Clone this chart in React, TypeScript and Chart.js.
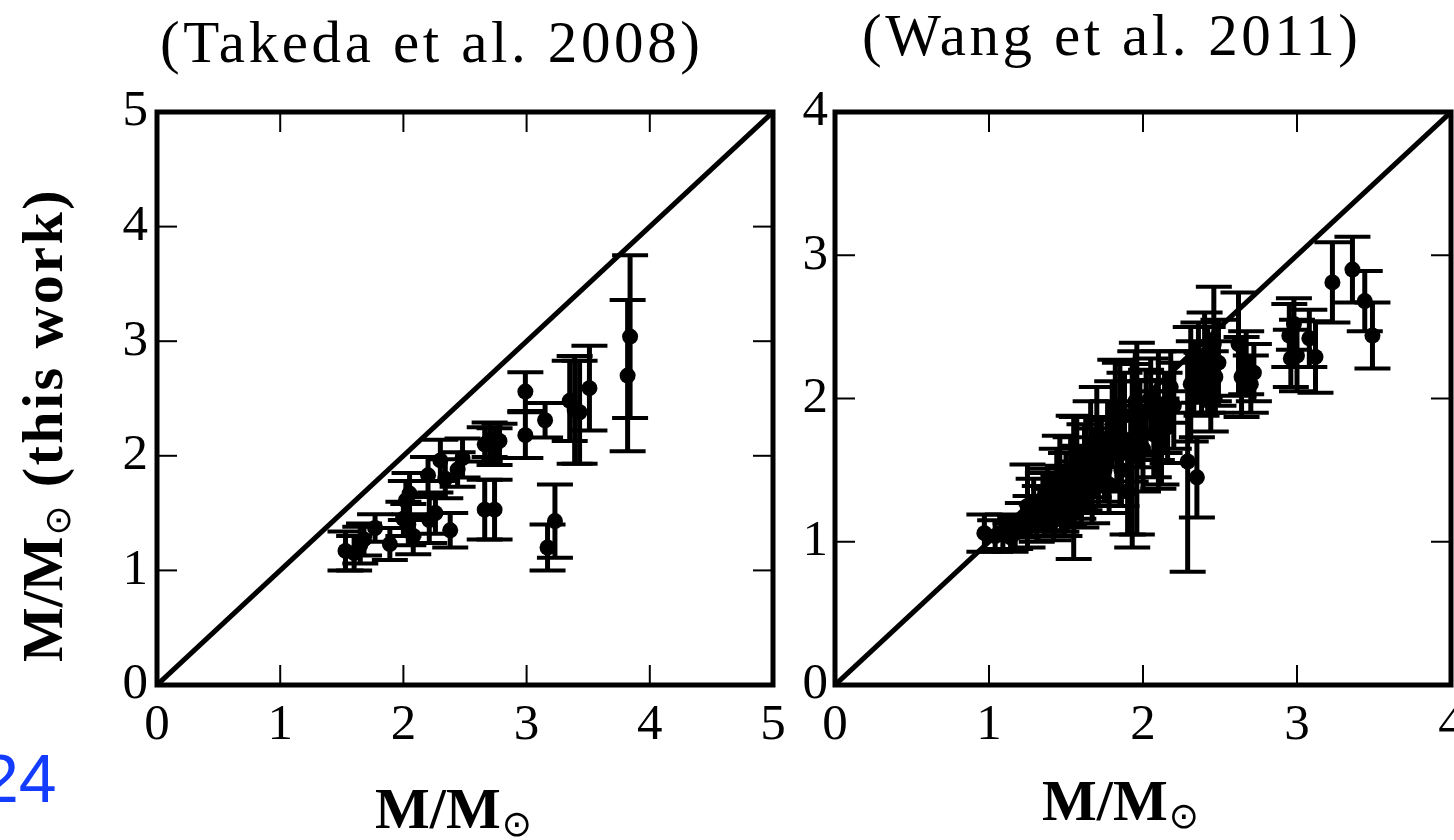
import React, { useEffect, useRef } from "react";
import { Chart, registerables } from "chart.js";

Chart.register(...registerables);

// ---------- data: Takeda et al. 2008 comparison ----------
const takedaMass = [1.53, 1.60, 1.65, 1.68, 1.77, 1.89, 2.00, 2.02, 2.05, 2.04, 2.08, 2.20, 2.21, 2.26, 2.30, 2.34, 2.38, 2.44, 2.48, 2.66, 2.70, 2.74, 2.78, 2.66, 2.74, 2.99, 2.99, 3.15, 3.17, 3.23, 3.35, 3.39, 3.43, 3.51, 3.84, 3.82];
const takedaThisWork = [1.17, 1.15, 1.22, 1.27, 1.37, 1.23, 1.45, 1.61, 1.67, 1.40, 1.30, 1.83, 1.44, 1.50, 1.96, 1.80, 1.35, 1.88, 1.98, 2.10, 2.14, 2.08, 2.13, 1.53, 1.53, 2.56, 2.18, 2.31, 1.20, 1.43, 2.48, 2.40, 2.38, 2.59, 3.04, 2.70];
const takedaErr = [0.17, 0.15, 0.16, 0.14, 0.12, 0.14, 0.15, 0.17, 0.18, 0.18, 0.16, 0.16, 0.20, 0.18, 0.18, 0.17, 0.15, 0.15, 0.17, 0.15, 0.15, 0.16, 0.15, 0.26, 0.26, 0.17, 0.20, 0.15, 0.20, 0.32, 0.35, 0.47, 0.45, 0.37, 0.71, 0.66];

// ---------- data: Wang et al. 2011 comparison ----------
const wangMass = [
  0.97, 1.04, 1.09, 1.14, 1.17,
  1.22, 1.25, 1.27, 1.29, 1.31, 1.33, 1.35, 1.36, 1.38, 1.39, 1.41, 1.42, 1.44, 1.46, 1.47, 1.48,
  1.49, 1.50, 1.52, 1.53, 1.55, 1.57, 1.58, 1.59, 1.60, 1.62, 1.63, 1.64, 1.66, 1.67, 1.68, 1.70, 1.71, 1.73, 1.75, 1.77, 1.78, 1.80,
  1.82, 1.83, 1.85, 1.86, 1.88, 1.90, 1.92, 1.93, 1.96, 1.95, 1.98, 2.00, 2.02, 2.05, 2.07, 2.09, 2.10, 2.12, 2.14, 2.16, 2.18, 2.20,
  2.29, 2.35, 2.31, 2.33, 2.36, 2.38, 2.40, 2.42, 2.44, 2.46, 2.47, 2.49,
  2.62, 2.64, 2.67, 2.70, 2.72,
  2.95, 2.96, 2.98, 3.00, 3.08, 3.12,
  3.23, 3.36, 3.44, 3.49,
];
const wangThisWork = [
  1.06, 1.04, 1.07, 1.03, 1.06,
  1.15, 1.25, 1.18, 1.28, 1.13, 1.24, 1.30, 1.18, 1.35, 1.22, 1.28, 1.15, 1.40, 1.45, 1.25, 1.33,
  1.20, 1.40, 1.30, 1.48, 1.38, 1.55, 1.36, 1.45, 1.28, 1.52, 1.62, 1.40, 1.68, 1.35, 1.55, 1.75, 1.45, 1.60, 1.50, 1.68, 1.40, 1.82,
  1.95, 1.62, 1.75, 1.50, 1.88, 1.35, 1.70, 1.60, 1.72, 1.98, 1.82, 1.65, 1.90, 2.00, 1.75, 1.85, 1.85, 1.70, 1.90, 1.80, 2.08, 1.95,
  1.56, 1.45, 2.10, 2.15, 2.25, 2.10, 2.30, 2.20, 2.05, 2.38, 2.15, 2.25,
  2.38, 2.15, 2.25, 2.10, 2.18,
  2.44, 2.28, 2.52, 2.30, 2.42, 2.29,
  2.81, 2.90, 2.68, 2.44,
];
const wangErr = [
  0.13, 0.11, 0.12, 0.10, 0.11,
  0.12, 0.29, 0.14, 0.16, 0.13, 0.15, 0.18, 0.14, 0.16, 0.15, 0.20, 0.14, 0.25, 0.29, 0.18, 0.20,
  0.16, 0.22, 0.18, 0.25, 0.50, 0.32, 0.20, 0.22, 0.18, 0.30, 0.25, 0.20, 0.30, 0.22, 0.24, 0.33, 0.20, 0.25, 0.22, 0.30, 0.20, 0.30,
  0.32, 0.25, 0.50, 0.25, 0.30, 0.30, 0.28, 0.64, 0.67, 0.35, 0.30, 0.30, 0.30, 0.28, 0.30, 0.28, 0.48, 0.30, 0.28, 0.25, 0.25, 0.30,
  0.77, 0.28, 0.40, 0.25, 0.28, 0.22, 0.30, 0.30, 0.28, 0.40, 0.25, 0.30,
  0.36, 0.28, 0.22, 0.20, 0.20,
  0.22, 0.20, 0.18, 0.25, 0.20, 0.25,
  0.28, 0.23, 0.21, 0.23,
];

// ---------- ticks & text ----------
const takedaTicks = [0, 1, 2, 3, 4, 5];
const wangTicks = [0, 1, 2, 3, 4];
const takedaTitle = "(Takeda et al. 2008)";
const wangTitle = "(Wang et al. 2011)";
const axisMain = "M/M";
const axisSun = "\u2299";
const yTail = " (this work)";
const pageNo = "24";

const SERIF = "'Liberation Serif', 'Times New Roman', serif";
const SUNFONT = "'DejaVu Sans', sans-serif";

function line(ctx: CanvasRenderingContext2D, x1: number, y1: number, x2: number, y2: number) {
  ctx.beginPath();
  ctx.moveTo(x1, y1);
  ctx.lineTo(x2, y2);
  ctx.stroke();
}

const errorBarPlugin = {
  id: "errorBars",
  beforeDatasetsDraw(chart: any) {
    const ds = chart.data.datasets[1];
    const errs: number[] = ds.errors || [];
    const xs = chart.scales.x;
    const ys = chart.scales.y;
    const ctx: CanvasRenderingContext2D = chart.ctx;
    ctx.save();
    ctx.strokeStyle = "#000";
    ds.data.forEach((p: any, i: number) => {
      const e = errs[i];
      if (!e) return;
      const px = xs.getPixelForValue(p.x);
      const t = ys.getPixelForValue(p.y + e);
      const b = ys.getPixelForValue(p.y - e);
      ctx.lineWidth = 5;
      line(ctx, px, t, px, b);
      ctx.lineWidth = 4;
      line(ctx, px - 18, t, px + 18, t);
      line(ctx, px - 18, b, px + 18, b);
    });
    ctx.restore();
  },
};

const framePlugin = {
  id: "frameTicks",
  afterDatasetsDraw(chart: any) {
    const ctx: CanvasRenderingContext2D = chart.ctx;
    const { left, right, top, bottom } = chart.chartArea;
    const xs = chart.scales.x;
    const ys = chart.scales.y;
    const L = 20;
    ctx.save();
    ctx.strokeStyle = "#000";
    ctx.lineWidth = 2;
    xs.ticks.forEach((t: any) => {
      const px = xs.getPixelForValue(t.value);
      line(ctx, px, bottom, px, bottom - L);
      line(ctx, px, top, px, top + L);
    });
    ys.ticks.forEach((t: any) => {
      const py = ys.getPixelForValue(t.value);
      line(ctx, left, py, left + L, py);
      line(ctx, right, py, right - L, py);
    });
    ctx.lineWidth = 5;
    ctx.strokeRect(left, top, right - left, bottom - top);
    ctx.restore();
  },
};

type TextCfg = {
  title: string;
  titleX: number;
  titleY: number;
  titleWidth: number;
  xLabelX: number;
  xLabelY: number;
  yLabel: boolean;
  yLabelX: number;
  yLabelY: number;
  yLabelLength: number;
};

function setSpacing(ctx: any, px: number) {
  if ("letterSpacing" in ctx) ctx.letterSpacing = `${px}px`;
}

function drawSpacedCentered(ctx: any, text: string, font: string, cx: number, y: number, target: number) {
  ctx.font = font;
  setSpacing(ctx, 0);
  const w0 = ctx.measureText(text).width;
  let sp = 0;
  if (target > w0 && text.length > 1) sp = (target - w0) / (text.length - 1);
  setSpacing(ctx, sp);
  ctx.textAlign = "left";
  ctx.fillText(text, cx - target / 2, y);
  setSpacing(ctx, 0);
}

function drawSunLabel(ctx: any, cx: number, y: number, tail: string, totalTarget: number) {
  const mainFont = `bold 58px ${SERIF}`;
  const sunFont = `36px ${SUNFONT}`;
  ctx.textAlign = "left";
  setSpacing(ctx, 0);
  ctx.font = mainFont;
  const wMain = ctx.measureText(axisMain).width;
  ctx.font = sunFont;
  const wSun = ctx.measureText(axisSun).width;
  ctx.font = mainFont;
  const wTail0 = tail ? ctx.measureText(tail).width : 0;
  let sp = 0;
  let total = wMain + wSun + 2 + wTail0;
  if (tail && totalTarget > total) {
    sp = (totalTarget - total) / tail.length;
    total = totalTarget;
  }
  let x = cx - total / 2;
  ctx.font = mainFont;
  ctx.fillText(axisMain, x, y);
  x += wMain + 1;
  ctx.font = sunFont;
  ctx.fillText(axisSun, x, y + 8);
  x += wSun + 1;
  if (tail) {
    ctx.font = mainFont;
    setSpacing(ctx, sp);
    ctx.fillText(tail, x, y);
    setSpacing(ctx, 0);
  }
}

function makeTextPlugin(cfg: TextCfg) {
  return {
    id: "panelText",
    afterDraw(chart: any) {
      const ctx = chart.ctx;
      ctx.save();
      ctx.fillStyle = "#000";
      ctx.textBaseline = "alphabetic";
      drawSpacedCentered(ctx, cfg.title, `59px ${SERIF}`, cfg.titleX, cfg.titleY, cfg.titleWidth);
      drawSunLabel(ctx, cfg.xLabelX, cfg.xLabelY, "", 0);
      if (cfg.yLabel) {
        ctx.translate(cfg.yLabelX, cfg.yLabelY);
        ctx.rotate(-Math.PI / 2);
        drawSunLabel(ctx, 0, 0, yTail, cfg.yLabelLength);
      }
      ctx.restore();
    },
  };
}

type PanelCfg = {
  mass: number[];
  thisWork: number[];
  err: number[];
  ticks: number[];
  yAxisWidth: number;
  padRight: number;
  yTickPad: number;
  text: TextCfg;
};

function buildChart(canvas: HTMLCanvasElement, cfg: PanelCfg) {
  const lo = Math.min(...cfg.ticks);
  const hi = Math.max(...cfg.ticks);
  const pts = cfg.mass.map((m, i) => ({ x: m, y: cfg.thisWork[i] }));
  const tickFont = { family: SERIF, size: 51 };
  const setTicks = (s: any) => {
    s.ticks = cfg.ticks.map((v) => ({ value: v }));
  };
  return new Chart(canvas, {
    type: "scatter",
    data: {
      datasets: [
        {
          data: [
            { x: lo, y: lo },
            { x: hi, y: hi },
          ],
          showLine: true,
          borderColor: "#000",
          borderWidth: 5,
          pointRadius: 0,
          pointHoverRadius: 0,
          fill: false,
        } as any,
        {
          data: pts,
          errors: cfg.err,
          backgroundColor: "#000",
          borderColor: "#000",
          borderWidth: 0,
          pointRadius: 8,
          pointHoverRadius: 8,
        } as any,
      ],
    },
    options: {
      responsive: false,
      maintainAspectRatio: false,
      animation: false,
      devicePixelRatio: 1,
      events: [],
      layout: { padding: { top: 112, right: cfg.padRight, bottom: 0, left: 0 } },
      plugins: {
        legend: { display: false },
        tooltip: { enabled: false },
        title: { display: false },
      },
      scales: {
        x: {
          type: "linear",
          min: lo,
          max: hi,
          afterBuildTicks: setTicks,
          afterFit: (s: any) => {
            s.height = 155;
          },
          ticks: { font: tickFont, color: "#000", padding: 10, maxRotation: 0, autoSkip: false },
          grid: { display: false, drawTicks: false },
          border: { display: false },
        },
        y: {
          type: "linear",
          min: lo,
          max: hi,
          afterBuildTicks: setTicks,
          afterFit: (s: any) => {
            s.width = cfg.yAxisWidth;
          },
          ticks: { font: tickFont, color: "#000", padding: cfg.yTickPad, autoSkip: false },
          grid: { display: false, drawTicks: false },
          border: { display: false },
        },
      },
    } as any,
    plugins: [errorBarPlugin, framePlugin, makeTextPlugin(cfg.text)],
  });
}

export default function App() {
  const leftRef = useRef<HTMLCanvasElement | null>(null);
  const rightRef = useRef<HTMLCanvasElement | null>(null);

  useEffect(() => {
    const charts: Chart[] = [];
    if (leftRef.current) {
      charts.push(
        buildChart(leftRef.current, {
          mass: takedaMass,
          thisWork: takedaThisWork,
          err: takedaErr,
          ticks: takedaTicks,
          yAxisWidth: 157,
          padRight: 27,
          yTickPad: 9,
          text: {
            title: takedaTitle,
            titleX: 430,
            titleY: 62,
            titleWidth: 540,
            xLabelX: 454,
            xLabelY: 828,
            yLabel: true,
            yLabelX: 62,
            yLabelY: 425,
            yLabelLength: 474,
          },
        })
      );
    }
    if (rightRef.current) {
      charts.push(
        buildChart(rightRef.current, {
          mass: wangMass,
          thisWork: wangThisWork,
          err: wangErr,
          ticks: wangTicks,
          yAxisWidth: 55,
          padRight: 49,
          yTickPad: 7,
          text: {
            title: wangTitle,
            titleX: 330,
            titleY: 55,
            titleWidth: 496,
            xLabelX: 341,
            xLabelY: 820,
            yLabel: false,
            yLabelX: 0,
            yLabelY: 0,
            yLabelLength: 0,
          },
        })
      );
    }
    return () => {
      charts.forEach((c) => c.destroy());
    };
  }, []);

  return (
    <div
      style={{
        position: "fixed",
        left: 0,
        top: 0,
        width: 1454,
        height: 840,
        overflow: "hidden",
        background: "#fff",
      }}
    >
      <canvas
        ref={leftRef}
        width={800}
        height={840}
        style={{ position: "absolute", left: 0, top: 0, width: 800, height: 840 }}
      />
      <canvas
        ref={rightRef}
        width={720}
        height={840}
        style={{ position: "absolute", left: 780, top: 0, width: 720, height: 840 }}
      />
      <div
        style={{
          position: "absolute",
          left: -19,
          top: 744,
          fontFamily: "'Liberation Sans', Arial, sans-serif",
          fontSize: 68,
          lineHeight: "68px",
          color: "rgb(20, 60, 255)",
          whiteSpace: "nowrap",
        }}
      >
        {pageNo}
      </div>
    </div>
  );
}
